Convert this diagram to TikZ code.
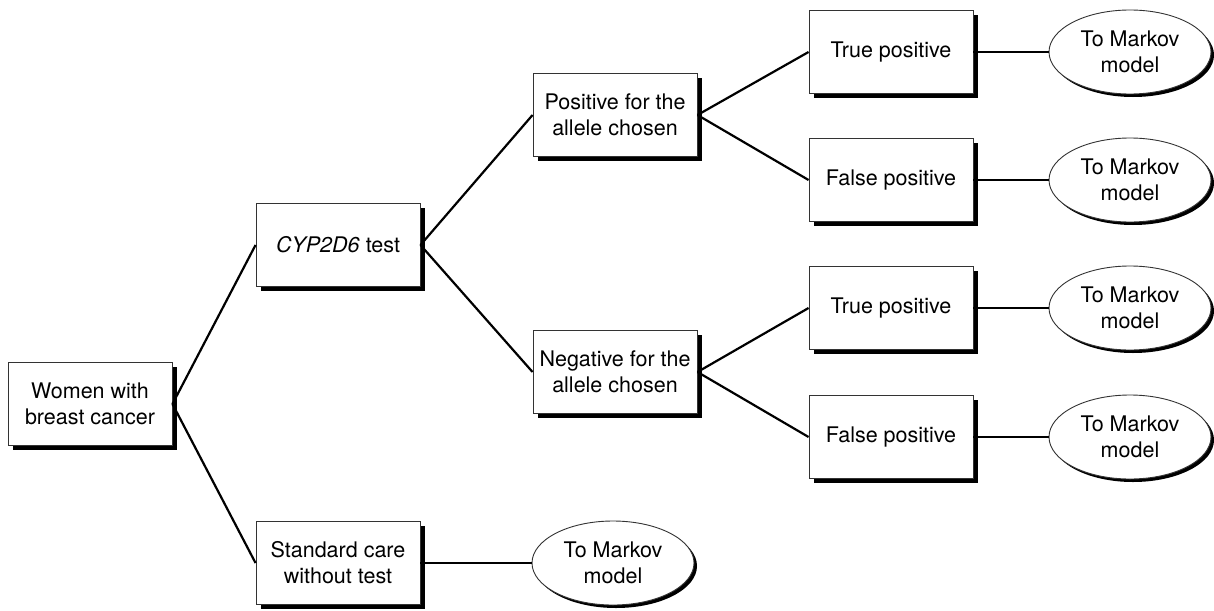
\documentclass[tikz,border=0pt]{standalone}
\usepackage{fontspec}
\setmainfont{TeX Gyre Heros}
\usetikzlibrary{shapes.geometric,shadows}
\begin{document}
\begin{tikzpicture}[x=1pt,y=-1pt,
  font=\fontsize{21.5}{26}\selectfont,
  boxnode/.style={draw=black!80, line width=0.9pt, fill=white, minimum width=164pt, minimum height=83pt, align=center, inner sep=0pt,
    drop shadow={shadow xshift=4.5pt, shadow yshift=-4.5pt, fill=black, opacity=1}},
  endnode/.style={ellipse, draw=black!80, line width=0.9pt, fill=white, minimum width=162pt, minimum height=84pt, align=center, inner sep=0pt,
    drop shadow={shadow xshift=3pt, shadow yshift=-3pt, fill=black, opacity=1}},
  link/.style={line width=2.2pt, black}]
\useasboundingbox (0,0) rectangle (1214,610);
\node[boxnode] (women) at (90,404) {Women with\\breast cancer};
\node[boxnode] (cyp) at (338,245) {\textit{CYP2D6} test};
\node[boxnode] (std) at (338,563) {Standard care\\without test};
\node[endnode] (mstd) at (613,563) {To Markov\\model};
\node[boxnode] (pos) at (615,115) {Positive for the\\allele chosen};
\node[boxnode] (neg) at (615,372) {Negative for the\\allele chosen};
\node[boxnode] (tp1) at (891,52) {True positive};
\node[boxnode] (fp1) at (891,180) {False positive};
\node[boxnode] (tp2) at (891,308) {True positive};
\node[boxnode] (fp2) at (891,437) {False positive};
\node[endnode] (m1) at (1130,52) {To Markov\\model};
\node[endnode] (m2) at (1130,180) {To Markov\\model};
\node[endnode] (m3) at (1130,308) {To Markov\\model};
\node[endnode] (m4) at (1130,437) {To Markov\\model};
\draw[link] (women.east) -- (cyp.west);
\draw[link] (women.east) -- (std.west);
\draw[link] (std.east) -- (mstd.west);
\draw[link] (cyp.east) -- (pos.west);
\draw[link] (cyp.east) -- (neg.west);
\draw[link] (pos.east) -- (tp1.west);
\draw[link] (pos.east) -- (fp1.west);
\draw[link] (neg.east) -- (tp2.west);
\draw[link] (neg.east) -- (fp2.west);
\draw[link] (tp1.east) -- (m1.west);
\draw[link] (fp1.east) -- (m2.west);
\draw[link] (tp2.east) -- (m3.west);
\draw[link] (fp2.east) -- (m4.west);
\end{tikzpicture}
\end{document}
